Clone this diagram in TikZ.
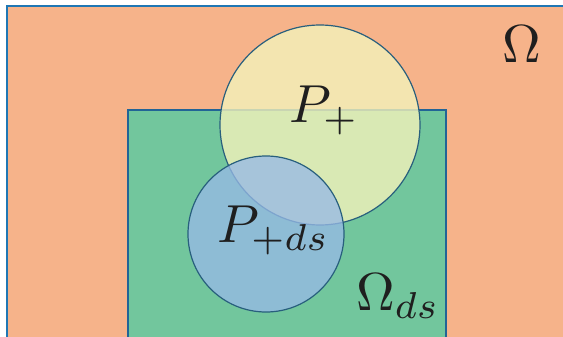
\documentclass[tikz,border=0pt]{standalone}
\usepackage{amsmath}
\definecolor{outerfill}{RGB}{246,179,138}
\definecolor{outerline}{RGB}{31,119,180}
\definecolor{innerfill}{RGB}{114,198,157}
\definecolor{innerline}{RGB}{34,100,150}
\definecolor{yellowfill}{RGB}{243,242,186}
\definecolor{bluefill}{RGB}{151,185,230}
\definecolor{circline}{RGB}{40,95,125}
\tikzset{
  bigtext/.style={inner sep=0pt, anchor=base west, font=\fontsize{10}{12}\selectfont, text=black!88, scale=5.35, transform shape},
  region/.style={circle, draw=circline, line width=1.2pt, inner sep=0pt}
}
\begin{document}
\begin{tikzpicture}[x=1pt,y=-1pt]
\useasboundingbox (0,0) rectangle (563,337);
\clip (0,0) rectangle (563,337);
\fill[outerfill, draw=outerline, line width=2pt] (7,6) rectangle (580,360);
\fill[innerfill, draw=innerline, line width=1.5pt] (128,110) rectangle (446,360);
\node[region, fill=yellowfill, fill opacity=0.8, minimum size=200pt] (Pp) at (320,125) {};
\node[region, fill=bluefill, fill opacity=0.77, minimum size=156pt] (Pds) at (266,234) {};
\node[bigtext] (Om) at (501,63) {$\Omega$};
\node[bigtext] (Ppl) at (288,122) {$P_+$};
\node[bigtext] (Pdsl) at (216,242) {$P_{+ds}$};
\node[bigtext] (Omds) at (355,310) {$\Omega_{ds}$};
\end{tikzpicture}
\end{document}
